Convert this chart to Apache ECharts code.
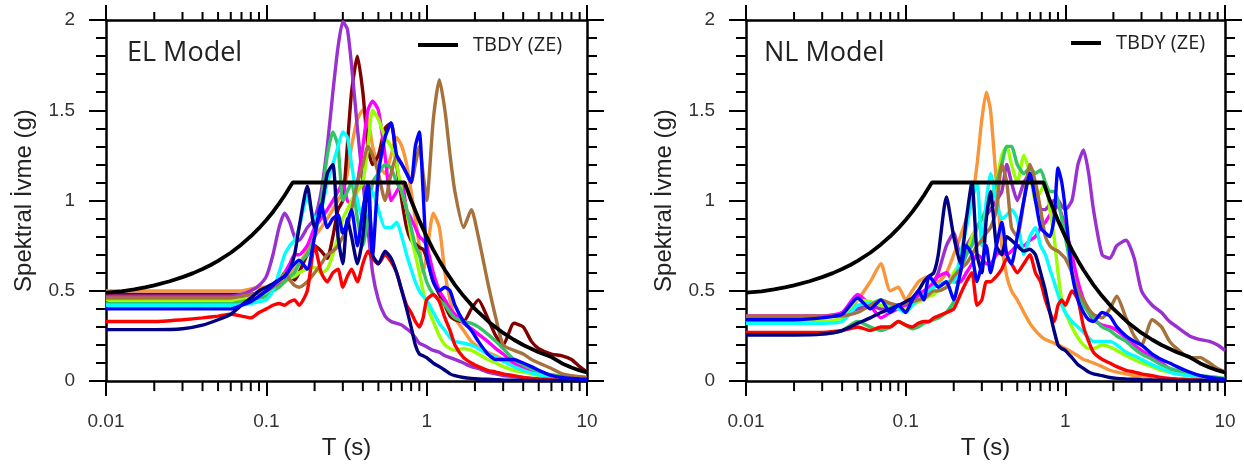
<!DOCTYPE html>
<html><head><meta charset="utf-8">
<script src="https://cdn.jsdelivr.net/npm/echarts@6/dist/echarts.min.js"></script>
<style>html,body{margin:0;padding:0;background:#fff}#c{width:1244px;height:465px}</style>
</head><body><div id="c"></div>
<script>
// Periods (s) shared by all records
const PERIODS = [0.01,0.02,0.03,0.04,0.05,0.06,0.07,0.08,0.09,0.1,
  0.11,0.12,0.13,0.14,0.15,0.16,0.18,0.2,0.22,0.24,
  0.26,0.28,0.3,0.32,0.34,0.37,0.4,0.43,0.46,0.5,
  0.55,0.6,0.65,0.7,0.75,0.8,0.85,0.9,0.95,1.0,
  1.1,1.2,1.3,1.4,1.5,1.7,1.9,2.1,2.4,2.7,
  3.0,3.5,4.0,4.5,5.0,6.0,7.0,8.0,9.0,10];

// ---- EL Model records (Sa, g)
const EL_ORANGE = [0.5,0.5,0.5,0.5,0.5,0.5,0.5,0.51,0.52,0.52, 0.53,0.55,0.57,0.6,0.62,0.65,0.72,0.8,0.85,0.9, 0.95,1.0,1.05,1.15,1.3,1.45,1.5,1.45,1.3,1.2, 1.15,1.25,1.35,1.3,1.2,1.05,0.9,0.75,0.6,0.7, 0.93,0.85,0.6,0.45,0.35,0.28,0.22,0.19,0.16,0.14, 0.12,0.1,0.08,0.06,0.05,0.03,0.02,0.015,0.012,0.01];
const EL_MAROON = [0.48,0.48,0.48,0.48,0.48,0.48,0.48,0.48,0.49,0.5, 0.52,0.53,0.55,0.58,0.56,0.6,0.7,0.75,0.72,0.68, 0.8,0.95,1.0,1.3,1.6,1.8,1.6,1.3,1.2,1.25, 1.4,1.43,1.2,1.0,0.85,0.78,0.76,0.74,0.73,0.68, 0.55,0.48,0.42,0.36,0.34,0.33,0.4,0.45,0.35,0.25, 0.2,0.32,0.3,0.22,0.18,0.15,0.14,0.12,0.08,0.05];
const EL_PURPLE = [0.47,0.47,0.47,0.47,0.47,0.47,0.48,0.5,0.53,0.58, 0.7,0.85,0.93,0.88,0.8,0.78,0.85,0.9,1.05,1.3, 1.6,1.85,1.99,1.95,1.75,1.4,1.1,0.85,0.6,0.45, 0.36,0.33,0.32,0.31,0.29,0.27,0.24,0.21,0.2,0.19, 0.17,0.16,0.14,0.13,0.12,0.1,0.08,0.07,0.05,0.04, 0.03,0.025,0.02,0.015,0.012,0.01,0.008,0.007,0.006,0.005];
const EL_MAGENTA = [0.46,0.46,0.46,0.46,0.46,0.46,0.47,0.48,0.49,0.5, 0.52,0.55,0.6,0.65,0.7,0.7,0.75,0.85,0.9,0.95, 1.0,1.05,1.1,1.0,0.98,1.1,1.3,1.5,1.55,1.5, 1.25,1.0,1.05,1.1,0.95,0.9,0.85,0.8,0.78,0.75, 0.6,0.5,0.45,0.4,0.37,0.32,0.29,0.26,0.22,0.18, 0.15,0.1,0.07,0.05,0.04,0.025,0.015,0.01,0.008,0.006];
const EL_LGREEN = [0.45,0.45,0.45,0.45,0.45,0.45,0.45,0.46,0.47,0.48, 0.5,0.52,0.55,0.57,0.58,0.6,0.62,0.63,0.6,0.62, 0.7,0.8,0.9,0.95,1.0,1.05,1.1,1.3,1.5,1.45, 1.35,1.3,1.2,1.05,0.95,0.8,0.7,0.6,0.5,0.42, 0.33,0.25,0.2,0.18,0.17,0.18,0.17,0.15,0.12,0.1, 0.08,0.06,0.05,0.04,0.03,0.02,0.015,0.012,0.01,0.008];
const EL_GREEN = [0.43,0.43,0.43,0.43,0.43,0.43,0.44,0.45,0.46,0.47, 0.5,0.52,0.55,0.58,0.6,0.65,0.7,0.8,1.0,1.25, 1.38,1.3,1.0,1.05,1.1,0.9,0.75,0.9,1.1,1.15, 1.2,1.18,1.1,1.05,0.95,0.85,0.75,0.7,0.62,0.55, 0.48,0.45,0.42,0.38,0.35,0.33,0.32,0.3,0.26,0.22, 0.18,0.12,0.09,0.07,0.05,0.035,0.025,0.02,0.015,0.012];
const EL_CYAN = [0.42,0.42,0.42,0.42,0.42,0.42,0.42,0.43,0.44,0.45, 0.5,0.6,0.7,0.75,0.78,0.85,1.02,0.9,0.95,1.1, 1.2,1.3,1.38,1.35,1.2,1.0,0.9,0.95,1.05,0.95, 0.85,0.85,0.88,0.8,0.7,0.62,0.55,0.5,0.47,0.45, 0.38,0.32,0.28,0.24,0.22,0.21,0.2,0.18,0.15,0.13, 0.11,0.08,0.06,0.045,0.035,0.02,0.015,0.01,0.008,0.006];
const EL_BROWN = [0.46,0.46,0.46,0.46,0.46,0.46,0.47,0.48,0.49,0.5, 0.52,0.55,0.6,0.56,0.53,0.52,0.55,0.6,0.65,0.7, 0.72,0.75,0.8,0.85,0.95,1.1,1.2,1.3,1.25,1.15, 1.0,1.15,1.25,1.2,1.15,1.1,1.2,1.3,1.15,1.0, 1.45,1.67,1.5,1.25,1.05,0.85,0.95,0.8,0.55,0.35, 0.2,0.17,0.15,0.12,0.1,0.07,0.04,0.03,0.025,0.02];
const EL_RED = [0.33,0.33,0.34,0.35,0.36,0.37,0.36,0.35,0.38,0.4, 0.42,0.43,0.42,0.44,0.45,0.42,0.5,0.75,0.6,0.55, 0.6,0.62,0.52,0.58,0.62,0.55,0.65,0.72,0.68,0.65, 0.7,0.66,0.6,0.5,0.42,0.38,0.33,0.3,0.35,0.45, 0.48,0.44,0.35,0.28,0.2,0.13,0.1,0.08,0.06,0.05, 0.04,0.03,0.02,0.015,0.012,0.008,0.006,0.005,0.004,0.004];
const EL_NAVY = [0.285,0.285,0.29,0.31,0.34,0.37,0.42,0.46,0.5,0.52, 0.54,0.56,0.58,0.62,0.7,0.85,1.08,0.85,0.95,1.15, 1.2,0.8,0.65,0.9,0.8,0.65,0.8,1.1,0.7,0.65, 0.72,0.68,0.6,0.5,0.4,0.3,0.2,0.15,0.14,0.13, 0.1,0.08,0.06,0.04,0.03,0.02,0.015,0.012,0.01,0.008, 0.006,0.005,0.004,0.004,0.003,0.003,0.002,0.002,0.002,0.002];
const EL_BLUE = [0.4,0.4,0.4,0.4,0.4,0.4,0.42,0.44,0.47,0.5, 0.53,0.56,0.58,0.62,0.65,0.67,0.62,0.8,0.98,0.85, 0.9,0.92,0.82,0.88,0.95,0.75,0.95,1.1,0.7,1.15, 1.35,1.43,1.25,1.2,1.15,1.1,1.3,1.38,1.05,0.7, 0.55,0.5,0.52,0.5,0.42,0.33,0.28,0.22,0.15,0.12, 0.12,0.12,0.1,0.08,0.06,0.03,0.02,0.015,0.012,0.01];

// ---- NL Model records (Sa, g)
const NL_ORANGE = [0.36,0.36,0.36,0.36,0.45,0.55,0.65,0.5,0.52,0.45, 0.5,0.55,0.57,0.58,0.56,0.55,0.6,0.7,0.8,0.9, 1.0,1.2,1.45,1.6,1.5,1.1,0.75,0.58,0.5,0.45, 0.38,0.32,0.28,0.25,0.23,0.22,0.21,0.2,0.19,0.18, 0.16,0.14,0.12,0.11,0.1,0.08,0.06,0.05,0.04,0.03, 0.025,0.02,0.015,0.012,0.01,0.008,0.006,0.005,0.004,0.004];
const NL_PURPLE = [0.36,0.36,0.36,0.37,0.4,0.42,0.4,0.4,0.42,0.42, 0.44,0.46,0.48,0.5,0.55,0.6,0.75,0.82,0.7,0.75, 0.8,0.85,0.9,0.92,0.95,1.0,1.05,1.2,1.1,1.0, 1.1,1.15,1.0,0.95,0.95,0.98,1.0,1.0,0.97,0.95, 1.0,1.2,1.28,1.15,0.95,0.7,0.68,0.75,0.78,0.68, 0.5,0.42,0.38,0.33,0.3,0.25,0.23,0.22,0.2,0.17];
const NL_MAGENTA = [0.36,0.36,0.36,0.38,0.48,0.42,0.35,0.38,0.4,0.42, 0.45,0.48,0.5,0.52,0.55,0.58,0.6,0.55,0.55,0.6, 0.65,0.7,0.68,0.65,0.65,0.7,0.72,0.7,0.72,0.75, 0.75,0.78,0.8,0.85,0.88,0.92,0.95,0.97,0.92,0.85, 0.7,0.55,0.45,0.38,0.34,0.31,0.3,0.28,0.24,0.2, 0.17,0.13,0.1,0.07,0.05,0.03,0.02,0.015,0.01,0.008];
const NL_LGREEN = [0.33,0.33,0.33,0.35,0.45,0.44,0.42,0.41,0.4,0.4, 0.42,0.44,0.45,0.47,0.48,0.5,0.52,0.6,0.65,0.7, 0.8,0.85,0.9,0.95,1.0,1.1,1.25,1.3,1.2,1.1, 1.25,1.15,1.0,1.05,1.1,0.95,0.8,0.6,0.45,0.38, 0.3,0.24,0.2,0.18,0.18,0.2,0.19,0.17,0.14,0.12, 0.1,0.08,0.06,0.05,0.04,0.03,0.02,0.015,0.012,0.01];
const NL_GREEN = [0.26,0.26,0.26,0.28,0.33,0.3,0.28,0.3,0.33,0.31, 0.29,0.3,0.32,0.33,0.34,0.35,0.38,0.44,0.6,0.7, 0.75,0.85,0.9,0.95,1.0,1.1,1.2,1.3,1.3,1.2, 1.15,1.18,1.15,1.17,1.1,1.05,1.05,1.0,0.9,0.8, 0.6,0.5,0.42,0.38,0.35,0.3,0.28,0.25,0.22,0.18, 0.15,0.12,0.09,0.07,0.06,0.04,0.03,0.025,0.02,0.015];
const NL_CYAN = [0.32,0.32,0.32,0.33,0.42,0.43,0.45,0.42,0.4,0.38, 0.42,0.45,0.48,0.5,0.52,0.53,0.55,0.55,0.7,0.85, 1.0,1.1,0.75,1.0,1.15,1.0,0.9,0.92,0.95,0.9, 0.7,0.8,0.85,0.75,0.7,0.62,0.55,0.48,0.42,0.38, 0.33,0.3,0.27,0.24,0.22,0.22,0.22,0.2,0.16,0.14, 0.12,0.09,0.07,0.05,0.04,0.03,0.02,0.015,0.012,0.01];
const NL_BROWN = [0.36,0.36,0.36,0.36,0.38,0.42,0.45,0.43,0.42,0.43, 0.44,0.45,0.46,0.48,0.5,0.5,0.52,0.58,0.62,0.65, 0.7,0.75,0.78,0.82,0.85,0.95,1.2,1.1,0.85,0.8, 1.0,1.2,1.1,0.95,0.8,0.75,0.73,0.72,0.7,0.68, 0.6,0.5,0.45,0.4,0.37,0.35,0.4,0.47,0.35,0.25, 0.2,0.34,0.3,0.22,0.18,0.13,0.13,0.1,0.07,0.05];
const NL_RED = [0.27,0.27,0.27,0.28,0.3,0.28,0.3,0.3,0.33,0.31, 0.3,0.32,0.33,0.33,0.35,0.36,0.38,0.4,0.48,0.55, 0.6,0.42,0.45,0.55,0.55,0.58,0.62,0.68,0.65,0.6, 0.65,0.7,0.6,0.55,0.45,0.38,0.33,0.42,0.45,0.42, 0.5,0.45,0.3,0.22,0.16,0.12,0.1,0.08,0.06,0.05, 0.04,0.03,0.02,0.015,0.012,0.008,0.006,0.005,0.004,0.004];
const NL_NAVY = [0.255,0.255,0.26,0.28,0.32,0.35,0.38,0.4,0.42,0.44, 0.46,0.5,0.55,0.58,0.6,0.7,1.02,0.8,0.65,0.9, 1.1,0.7,0.6,0.9,1.05,0.75,0.7,0.8,0.78,0.75, 0.72,0.73,0.7,0.6,0.5,0.38,0.28,0.2,0.18,0.17, 0.13,0.09,0.07,0.05,0.04,0.03,0.02,0.015,0.012,0.01, 0.008,0.006,0.005,0.004,0.004,0.003,0.003,0.002,0.002,0.002];
const NL_BLUE = [0.34,0.34,0.35,0.37,0.46,0.4,0.45,0.38,0.42,0.38, 0.45,0.5,0.45,0.58,0.55,0.52,0.55,0.45,0.6,0.75, 0.7,0.55,0.65,0.75,0.6,0.75,0.88,0.7,0.65,0.8, 1.0,1.15,1.0,0.85,0.82,0.8,0.9,1.18,1.1,0.95, 0.6,0.45,0.38,0.34,0.33,0.38,0.36,0.3,0.25,0.22, 0.2,0.15,0.12,0.1,0.08,0.05,0.03,0.02,0.015,0.01];

// ---- TBDY (ZE) design spectrum
const DESIGN_T  = [0.01,0.0125,0.015,0.0175,0.02,0.025,0.03,0.035,0.04,0.045,0.05,0.06,0.07,0.08,0.09,0.1,0.11,0.12,0.13,0.146,
  0.73,0.8,0.9,1.0,1.1,1.2,1.3,1.5,1.7,2,2.5,3,3.5,4,5,6,7,8,9,10];
const DESIGN_SA = [0.49,0.497,0.508,0.519,0.53,0.553,0.576,0.598,0.621,0.643,0.666,0.711,0.757,0.802,0.847,0.892,0.937,0.983,1.028,1.10,
  1.10,1.0,0.889,0.80,0.727,0.667,0.615,0.533,0.471,0.40,0.32,0.267,0.229,0.20,0.16,0.133,0.098,0.075,0.059,0.048];

const X_MINOR_TICKS = [0.02,0.03,0.04,0.05,0.06,0.07,0.08,0.09,0.2,0.3,0.4,0.5,0.6,0.7,0.8,0.9,2,3,4,5,6,7,8,9];
const PANEL_TITLES = ['EL Model','NL Model'];
const LEGEND_NAME = 'TBDY (ZE)';

const EL_RECORDS = [
  ['#f9963a', EL_ORANGE], ['#800000', EL_MAROON], ['#9b30d0', EL_PURPLE], ['#ff00ff', EL_MAGENTA],
  ['#99ff00', EL_LGREEN], ['#33c466', EL_GREEN], ['#00ffff', EL_CYAN], ['#a5713c', EL_BROWN],
  ['#ff0000', EL_RED], ['#000080', EL_NAVY], ['#0000ff', EL_BLUE]];
const NL_RECORDS = [
  ['#f9963a', NL_ORANGE], ['#9b30d0', NL_PURPLE], ['#ff00ff', NL_MAGENTA],
  ['#99ff00', NL_LGREEN], ['#33c466', NL_GREEN], ['#00ffff', NL_CYAN], ['#a5713c', NL_BROWN],
  ['#ff0000', NL_RED], ['#000080', NL_NAVY], ['#0000ff', NL_BLUE]];

const LABEL_FONT = 'Liberation Sans, Arial, sans-serif';
const GRIDS = [{left:106, top:20, width:481, height:362}, {left:746, top:20, width:479, height:362}];

function xAxis(g, pos) {
  const bottom = pos === 'bottom';
  return {
    type:'log', logBase:10, gridIndex:g, position:pos, min:0.01, max:10,
    axisLine:{show:true, onZero:false, lineStyle:{color:'#000', width:2.5}},
    axisTick:{show:true, inside:false, length:15, lineStyle:{color:'#000', width:2}},
    minorTick:{show:false},
    axisLabel:{show:bottom, margin:31, fontSize:19, color:'#333', fontFamily:LABEL_FONT,
      formatter:v => String(Number(Number(v).toPrecision(2)))},
    splitLine:{show:false},
    name: bottom ? 'T (s)' : '', nameLocation:'middle', nameGap:52,
    nameTextStyle:{fontSize:24, color:'#222', fontFamily:LABEL_FONT}
  };
}
function yAxis(g, pos) {
  const left = pos === 'left';
  return {
    type:'value', gridIndex:g, position:pos, min:0, max:2, interval:0.5,
    axisLine:{show:true, onZero:false, lineStyle:{color:'#000', width:2.5}},
    axisTick:{show:true, inside:false, length:17, lineStyle:{color:'#000', width:2}},
    minorTick:{show:true, splitNumber:5, length:10, lineStyle:{color:'#000', width:2}},
    axisLabel:{show:left, margin:31, fontSize:19, color:'#333', fontFamily:LABEL_FONT},
    splitLine:{show:false},
    name: left ? 'Spektral İvme (g)' : '', nameLocation:'middle', nameGap:70,
    nameTextStyle:{fontSize:24, color:'#222', fontFamily:LABEL_FONT}
  };
}

const series = [];
[EL_RECORDS, NL_RECORDS].forEach((recs, g) => {
  recs.forEach(([color, vals], i) => {
    series.push({
      type:'line', name:'Kayıt ' + (i + 1), xAxisIndex:g*2, yAxisIndex:g*2,
      data: PERIODS.map((t, k) => [t, vals[k]]),
      showSymbol:false, symbol:'none', smooth:0.2,
      lineStyle:{color, width:3.4}, itemStyle:{color}, z:2, silent:true
    });
  });
  series.push({
    type:'line', name:LEGEND_NAME, xAxisIndex:g*2, yAxisIndex:g*2,
    data: DESIGN_T.map((t, k) => [t, DESIGN_SA[k]]),
    showSymbol:false, symbol:'none',
    lineStyle:{color:'#000', width:3.8}, itemStyle:{color:'#000'}, z:3, silent:true
  });
  series.push({
    type:'custom', xAxisIndex:g*2, yAxisIndex:g*2, silent:true, clip:false, z:4,
    data: X_MINOR_TICKS.map(v => [v, 0]),
    encode:{x:0, y:1},
    renderItem(params, api) {
      const x = api.value(0);
      const b = api.coord([x, 0]);
      const t = api.coord([x, 2]);
      const st = {stroke:'#000', lineWidth:2};
      return {type:'group', children:[
        {type:'line', shape:{x1:b[0], y1:b[1], x2:b[0], y2:b[1] + 10}, style:st},
        {type:'line', shape:{x1:t[0], y1:t[1], x2:t[0], y2:t[1] - 8}, style:st}
      ]};
    }
  });
});

const chart = echarts.init(document.getElementById('c'), null, {renderer:'canvas'});
chart.setOption({
  animation:false,
  backgroundColor:'#fff',
  grid: GRIDS.map(g => Object.assign({containLabel:false}, g)),
  xAxis:[xAxis(0,'bottom'), xAxis(0,'top'), xAxis(1,'bottom'), xAxis(1,'top')],
  yAxis:[yAxis(0,'left'), yAxis(0,'right'), yAxis(1,'left'), yAxis(1,'right')],
  title:[
    {text:PANEL_TITLES[0], left:122, top:35, textStyle:{fontSize:27, fontWeight:'normal', color:'#222', fontFamily:'Open Sans'}},
    {text:PANEL_TITLES[1], left:759, top:35, textStyle:{fontSize:27, fontWeight:'normal', color:'#222', fontFamily:'Open Sans'}}
  ],
  legend:[
    {data:[LEGEND_NAME], left:418, top:35, icon:'rect', itemWidth:40, itemHeight:4, selectedMode:false, padding:0,
      textStyle:{fontSize:20, color:'#222', fontFamily:'Open Sans', padding:[0,0,0,10]}},
    {data:[LEGEND_NAME], left:1071, top:33, icon:'rect', itemWidth:30, itemHeight:4, selectedMode:false, padding:0,
      textStyle:{fontSize:20, color:'#222', fontFamily:'Open Sans', padding:[0,0,0,10]}}
  ],
  series
});
</script></body></html>
